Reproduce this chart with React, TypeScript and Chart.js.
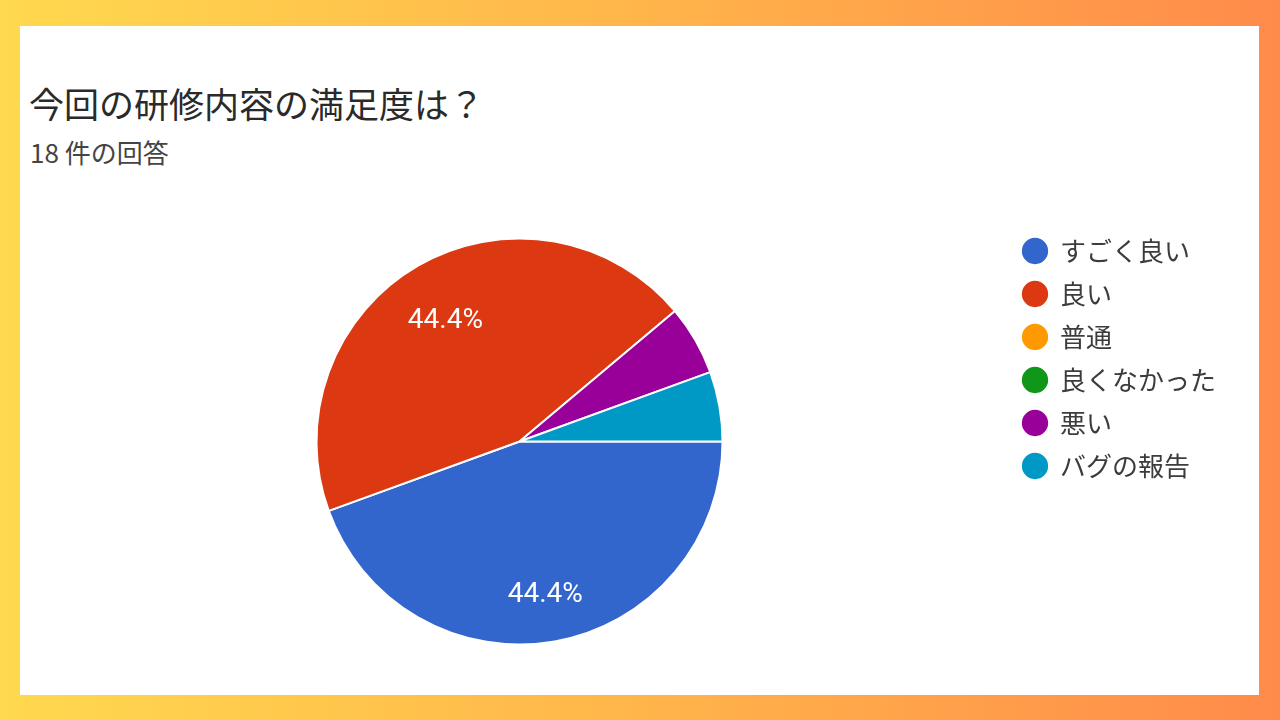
import { useEffect, useRef } from "react"
import { Chart, registerables } from "chart.js"

Chart.register(...registerables)

// 回答データ（18 件）
const labels = ["すごく良い", "良い", "普通", "良くなかった", "悪い", "バグの報告"]
const counts = [8, 8, 0, 0, 1, 1]
const colors = ["#3366CC", "#DC3912", "#FF9900", "#109618", "#990099", "#0099C6"]

const title = "今回の研修内容の満足度は？"
const subtitle = "18 件の回答"

// 大きいスライスにだけパーセントを表示する
const percentLabels = {
  id: "percentLabels",
  afterDatasetsDraw(chart: Chart) {
    const ctx = chart.ctx
    const meta = chart.getDatasetMeta(0)
    const values = chart.data.datasets[0].data as number[]
    const total = values.reduce((a, b) => a + b, 0)
    ctx.save()
    ctx.fillStyle = "#ffffff"
    ctx.font = "28px Roboto, 'Noto Sans', sans-serif"
    ctx.textAlign = "center"
    ctx.textBaseline = "middle"
    meta.data.forEach((el: any, i: number) => {
      const share = values[i] / total
      if (share < 0.1) return
      const { x, y, startAngle, endAngle, outerRadius } = el.getProps(
        ["x", "y", "startAngle", "endAngle", "outerRadius"],
        true
      )
      const mid = (startAngle + endAngle) / 2
      const r = outerRadius * 0.73
      ctx.fillText(
        (share * 100).toFixed(1) + "%",
        x + Math.cos(mid) * r,
        y + Math.sin(mid) * r + 8
      )
    })
    ctx.restore()
  },
}

function PieChart() {
  const chartRef = useRef<HTMLCanvasElement>(null)
  const chartInstance = useRef<Chart | null>(null)

  useEffect(() => {
    if (!chartRef.current) return
    if (chartInstance.current) chartInstance.current.destroy()
    const ctx = chartRef.current.getContext("2d")
    if (!ctx) return

    chartInstance.current = new Chart(ctx, {
      type: "pie",
      data: {
        labels,
        datasets: [
          {
            data: counts,
            backgroundColor: colors,
            borderColor: "#ffffff",
            borderWidth: 2,
          },
        ],
      },
      options: {
        animation: false,
        responsive: false,
        rotation: 90,
        radius: 203,
        layout: {
          padding: { top: 221, bottom: 58, left: 33, right: 54 },
        },
        plugins: {
          legend: {
            position: "right",
            align: "start",
            labels: {
              usePointStyle: true,
              pointStyle: "circle",
              boxWidth: 24,
              boxHeight: 20,
              padding: 17,
              color: "#3c3c3c",
              font: { size: 26, family: "'Noto Sans CJK JP', sans-serif" },
            },
          },
          tooltip: { enabled: false },
        },
      },
      plugins: [percentLabels],
    })

    return () => {
      if (chartInstance.current) {
        chartInstance.current.destroy()
        chartInstance.current = null
      }
    }
  }, [])

  return (
    <canvas
      ref={chartRef}
      width={1280}
      height={720}
      style={{ position: "absolute", left: 0, top: 0, width: 1280, height: 720 }}
    />
  )
}

export default function App() {
  return (
    <div
      style={{
        position: "fixed",
        left: 0,
        top: 0,
        width: 1280,
        height: 720,
        overflow: "hidden",
        background: "linear-gradient(90deg, #FFD94F 0%, #FFB54A 50%, #FF8B4A 100%)",
        fontFamily: "'Noto Sans CJK JP', sans-serif",
      }}
    >
      <div
        style={{
          position: "absolute",
          left: 20,
          top: 26,
          width: 1239,
          height: 669,
          background: "#ffffff",
        }}
      />
      <div
        style={{
          position: "absolute",
          left: 29,
          top: 81,
          fontSize: 35,
          lineHeight: "44px",
          color: "#2a2a2a",
          whiteSpace: "nowrap",
        }}
      >
        {title}
      </div>
      <div
        style={{
          position: "absolute",
          left: 30,
          top: 135,
          fontSize: 26,
          lineHeight: "34px",
          color: "#444444",
          whiteSpace: "nowrap",
        }}
      >
        {subtitle}
      </div>
      <PieChart />
    </div>
  )
}
